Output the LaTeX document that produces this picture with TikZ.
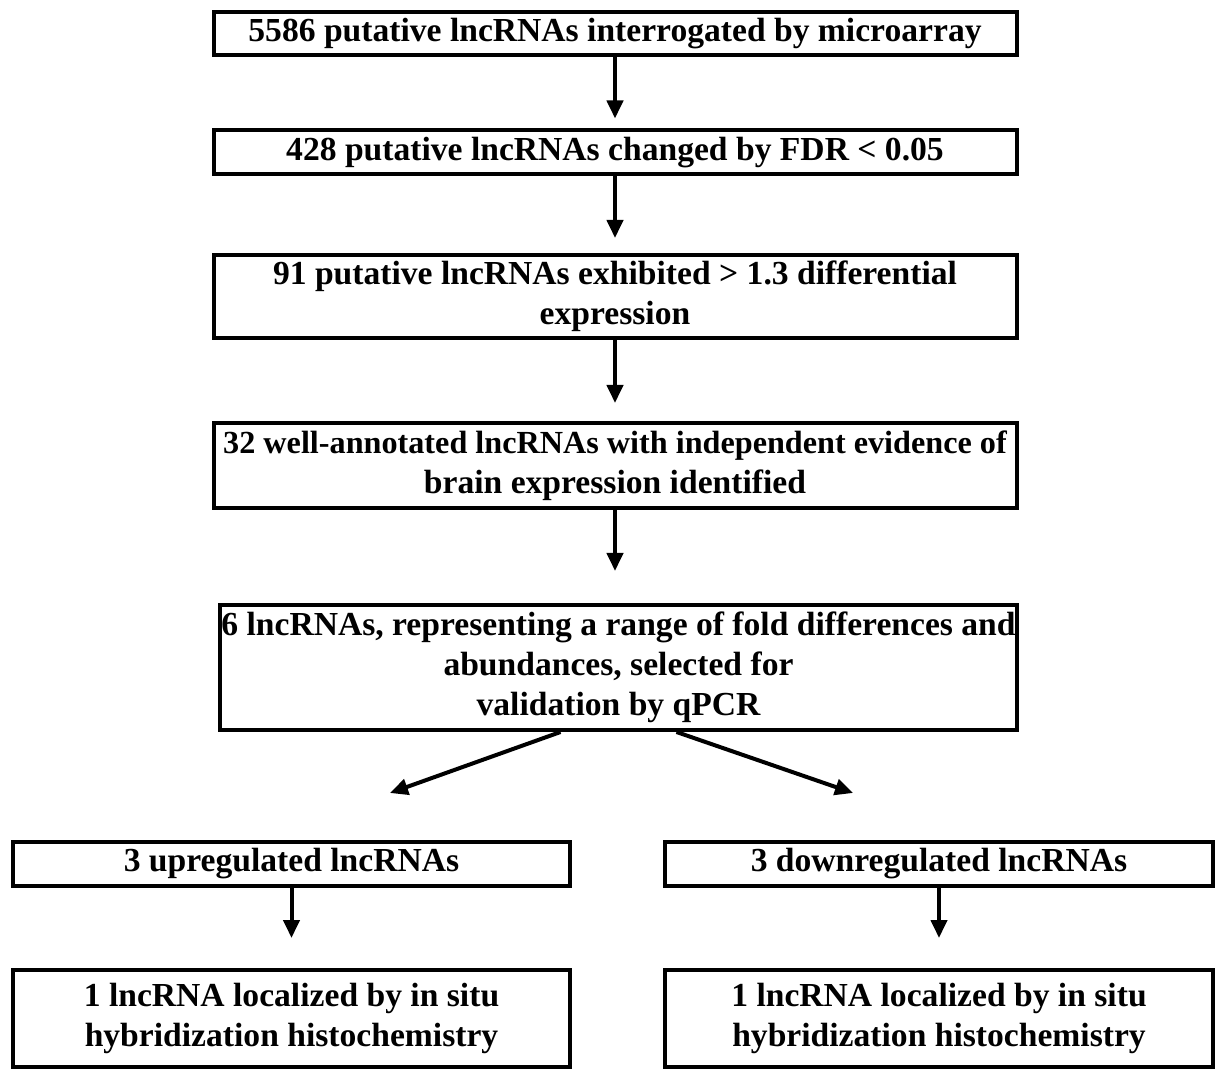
\documentclass[tikz,border=0pt]{standalone}
\usepackage{fontspec}
\setmainfont{Liberation Serif}
\usetikzlibrary{arrows.meta, positioning}

\begin{document}
\begin{tikzpicture}[
    x=0.5pt, y=-0.5pt,
    stage/.style={rectangle, draw=black, line width=2pt, inner sep=0pt, align=center, font=\fontsize{16.8}{20}\selectfont\bfseries},
    arrow/.style={line width=2pt, -{Triangle[length=9pt, width=8pt]}}
]
    \useasboundingbox (0,0) rectangle (1216,1069);
    \node[stage, minimum width=401.5pt, minimum height=21.5pt] (probed) at (615,33.5) {5586 putative lncRNAs interrogated by microarray};
    \node[stage, minimum width=401.5pt, minimum height=22pt] (fdr) at (615,152.5) {428 putative lncRNAs changed by FDR < 0.05};
    \node[stage, minimum width=401.5pt, minimum height=41.5pt] (fold) at (615,296.5) {91 putative lncRNAs exhibited > 1.3 differential\\expression};
    \node[stage, minimum width=401.5pt, minimum height=42.5pt] (annot) at (615,465.5) {{\fontsize{16.1}{20}\selectfont 32 well-annotated lncRNAs with independent evidence of}\\brain expression identified};
    \node[stage, minimum width=398.5pt, minimum height=62.5pt] (qpcr) at (618.5,667.5) {\makebox[394pt]{6 lncRNAs, representing a range of fold differences and}\\abundances, selected for\\validation by qPCR};
    \node[stage, minimum width=278.5pt, minimum height=22pt] (up) at (291.5,864) {3 upregulated lncRNAs};
    \node[stage, minimum width=274pt, minimum height=22pt] (down) at (939,864) {3 downregulated lncRNAs};
    \node[stage, minimum width=278.5pt, minimum height=48.5pt] (upish) at (291.5,1018.5) {1 lncRNA localized by in situ\\hybridization histochemistry};
    \node[stage, minimum width=274pt, minimum height=48.5pt] (downish) at (939,1018.5) {1 lncRNA localized by in situ\\hybridization histochemistry};
    \coordinate (splitL) at (390,793);
    \coordinate (splitR) at (853,793);
    \draw[arrow, shorten >=5pt] (probed) -- (fdr);
    \draw[arrow, shorten >=7.5pt] (fdr) -- (fold);
    \draw[arrow, shorten >=9pt] (fold) -- (annot);
    \draw[arrow, shorten >=16pt] (annot) -- (annot |- qpcr.north);
    \draw[arrow] ([xshift=-29pt]qpcr.south) -- (splitL);
    \draw[arrow] ([xshift=29pt]qpcr.south) -- (splitR);
    \draw[arrow, shorten >=15pt] (up) -- (upish);
    \draw[arrow, shorten >=15pt] (down) -- (downish);
\end{tikzpicture}
\end{document}
